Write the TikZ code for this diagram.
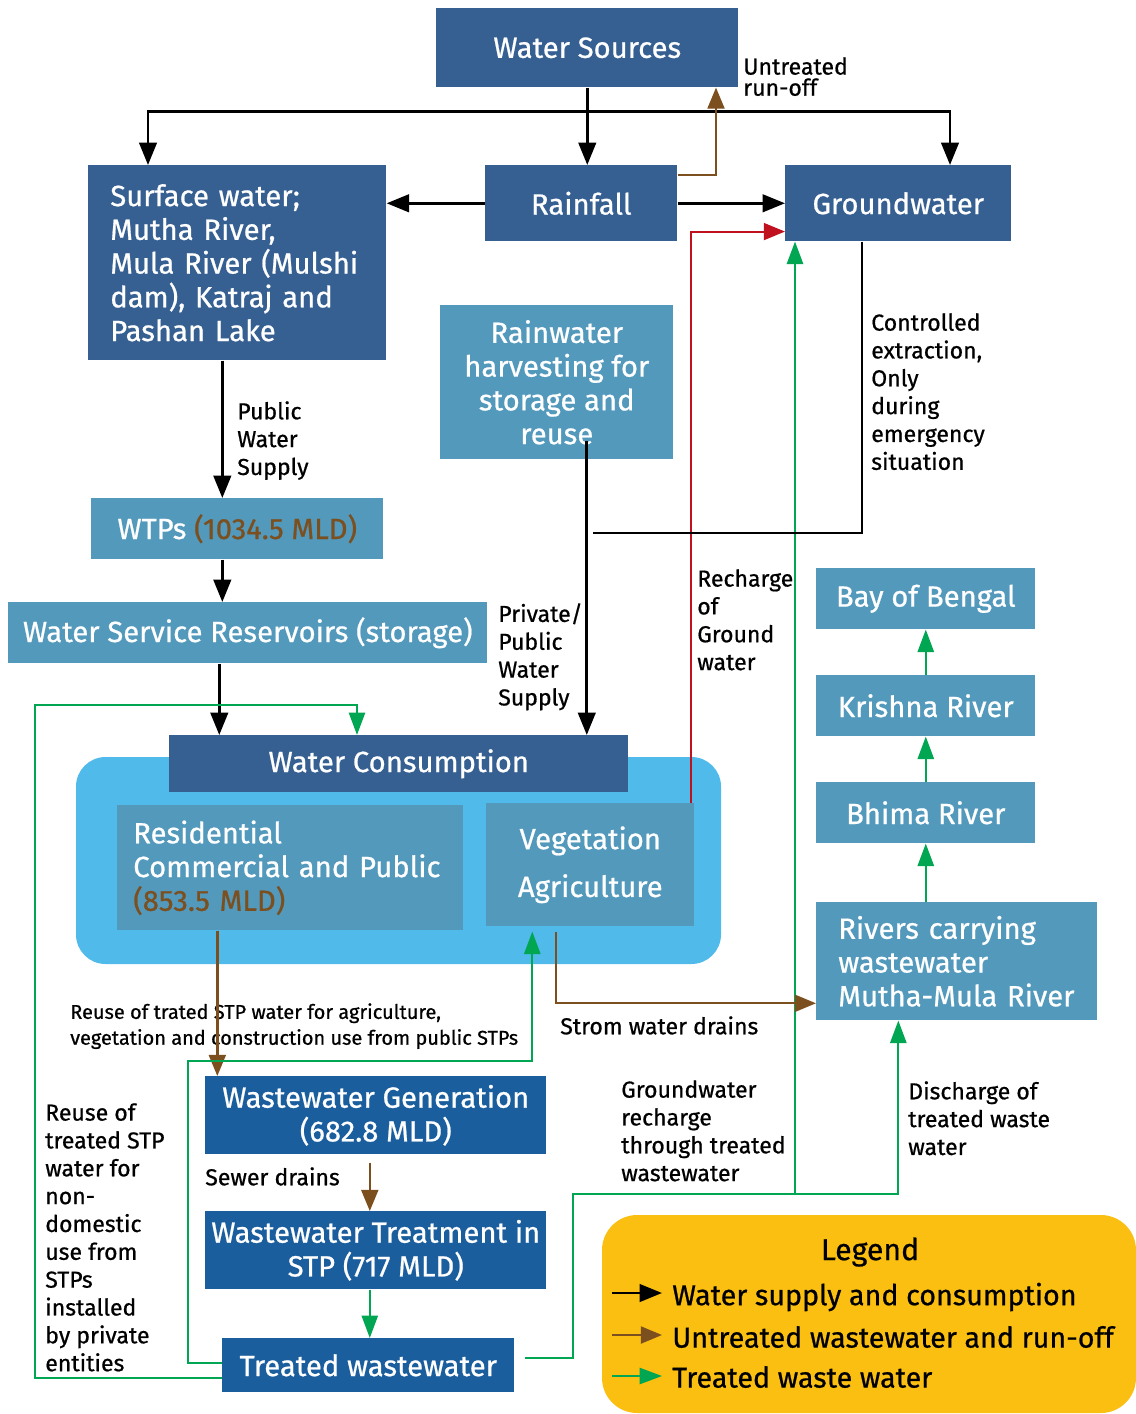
\documentclass[tikz,border=0pt]{standalone}
\usepackage{fontspec}
\setmainfont{Fira Sans}[FakeBold=0.7]
\usetikzlibrary{arrows.meta,calc}
\definecolor{darkbox}{RGB}{54,96,146}
\definecolor{midbox}{RGB}{82,153,188}
\definecolor{deepbox}{RGB}{27,94,157}
\definecolor{consbg}{RGB}{80,186,234}
\definecolor{runoff}{RGB}{124,79,31}
\definecolor{treated}{RGB}{0,166,81}
\definecolor{rechg}{RGB}{192,18,30}
\definecolor{legendbg}{RGB}{250,191,17}
\newlength\px
\setlength\px{0.025cm}
\tikzset{
  box/.style={fill=#1,text=white,inner sep=0pt,font=\fontsize{20.8}{24}\selectfont,anchor=north west},
  bsize/.style 2 args={minimum width=#1*\px,minimum height=#2*\px},
  lbl/.style={anchor=north west,inner sep=0pt,align=left,font=\fontsize{16.4}{19.8}\selectfont},
  supply/.style={line width=2pt,-{Triangle[width=12.5pt,length=16pt]}},
  raw/.style={runoff,line width=1.7pt,-{Triangle[width=12pt,length=15pt]}},
  trt/.style={treated,line width=1.6pt,-{Triangle[width=11.5pt,length=16pt]}},
}
\begin{document}
\begin{tikzpicture}[x=0.025cm,y=-0.025cm]
\useasboundingbox (0,0) rectangle (1136,1414);
\fill[consbg,rounded corners=21pt] (76,757) rectangle (721,964);
\fill[legendbg,rounded corners=25pt] (602,1215) rectangle (1136,1413);

\node[box=darkbox,bsize={302}{79}] (src) at (436,8) {Water Sources};
\node[box=darkbox,text width=6.35cm,inner xsep=0.55cm,minimum height=195*\px,align=left] (surf) at (88,165) {Surface water;\\Mutha River,\\Mula River (Mulshi\\dam), Katraj and\\Pashan Lake};
\node[box=darkbox,bsize={192}{76}] (rain) at (485,165) {Rainfall};
\node[box=darkbox,bsize={226}{76}] (gw) at (785,165) {Groundwater};
\node[box=midbox,bsize={233}{154},align=center] (rwh) at (440,305) {Rainwater\\harvesting for\\storage and\\reuse};
\node[box=midbox,bsize={292}{61}] (wtp) at (91,498) {WTPs {\color{runoff}(1034.5 MLD)}};
\node[box=midbox,bsize={479}{61}] (wsr) at (8,602) {Water Service Reservoirs (storage)};
\node[box=darkbox,bsize={459}{57}] (cons) at (169,735) {Water Consumption};
\node[box=midbox,text width=7.85cm,inner xsep=0.4cm,minimum height=125*\px,align=left] (resi) at (117,805) {Residential\\Commercial and Public\\{\color{runoff}(853.5 MLD)}};
\node[box=midbox,bsize={208}{123},align=center] (veg) at (486,803) {Vegetation\\[10pt]Agriculture};
\node[box=midbox,bsize={219}{61}] (bay) at (816,568) {Bay of Bengal};
\node[box=midbox,bsize={219}{61}] (kri) at (816,675) {Krishna River};
\node[box=midbox,bsize={219}{61}] (bhi) at (816,782) {Bhima River};
\node[box=midbox,text width=5.925cm,inner xsep=0.55cm,minimum height=118*\px,align=left] (riv) at (816,902) {Rivers carrying\\wastewater\\Mutha-Mula River};
\node[box=deepbox,bsize={341}{78},align=center] (wwg) at (205,1076) {Wastewater Generation\\(682.8 MLD)};
\node[box=deepbox,bsize={341}{78},align=center] (wwt) at (205,1211) {Wastewater Treatment in\\STP (717 MLD)};
\node[box=deepbox,bsize={292}{54}] (tww) at (222,1338) {Treated wastewater};

\node[lbl,font=\fontsize{16.4}{15}\selectfont] (lrun) at (743,57) {Untreated\\run-off};
\node[lbl] (lpws) at (237,401) {Public\\Water\\Supply};
\node[lbl] (lext) at (871,313) {Controlled\\extraction,\\Only\\during\\emergency\\situation};
\node[lbl] (lpriv) at (498,603) {Private/\\Public\\Water\\Supply};
\node[lbl] (lrech) at (697,569) {Recharge\\of\\Ground\\water};
\node[lbl,font=\fontsize{14.2}{18.4}\selectfont] (lagri) at (70,1003) {Reuse of trated STP water for agriculture,\\vegetation and construction use from public STPs};
\node[lbl] (lstorm) at (560,1016) {Strom water drains};
\node[lbl] (lnond) at (45,1103) {Reuse of\\treated STP\\water for\\non-\\domestic\\use from\\STPs\\installed\\by private\\entities};
\node[lbl] (lsew) at (205,1167) {Sewer drains};
\node[lbl] (lgwr) at (621,1080) {Groundwater\\recharge\\through treated\\wastewater};
\node[lbl] (ldis) at (908,1081) {Discharge of\\treated waste\\water};

\path (src.south) ++(0,24) coordinate (split);
\coordinate (swin) at (148,165);
\coordinate (gwin) at (950,165);
\coordinate (ext) at (593,533);
\coordinate (jn) at (795,1194);
\coordinate (lbend) at (35,705);
\coordinate (vbend) at (188,1061);
\coordinate (rbend) at (573,1194);
\draw[supply] (src.south) -- (src.south |- rain.north);
\draw[supply] (split) -| (swin);
\draw[supply] (split) -| (gwin);
\draw[supply] (rain.west) -- (rain.west -| surf.east);
\draw[supply] (rain.east) -- (rain.east -| gw.west);
\draw[raw] ($(rain.north east)+(0,10)$) -| ($(src.south west)+(280,0)$);
\draw[rechg,line width=1.4pt,-{Triangle[width=12pt,length=15pt]}] ($(veg.north east)+(-4,0)$) |- ($(gw.south west)+(0,-10)$);
\draw[trt] (jn) -- (jn |- gw.south);
\draw[line width=2pt] ($(gw.south west)+(77,0)$) |- (ext);
\coordinate (rwhout) at ($(rwh.south)+(30,-19)$);
\draw[supply] (rwhout) -- (rwhout |- cons.north);
\draw[supply] ($(surf.south)+(-15,0)$) coordinate (pws) -- (pws |- wtp.north);
\draw[supply] (pws |- wtp.south) -- (pws |- wsr.north);
\draw[supply] ($(wsr.south)+(-28.5,0)$) coordinate (cin) -- (cin |- cons.north);
\draw[raw] ($(resi.south)+(-73,0)$) coordinate (wout) -- (wout |- wwg.north);
\draw[raw] ($(veg.south)+(-34,5)$) |- ($(riv.west)+(0,42)$);
\draw[raw] ($(wwg.south)+(-6,8)$) coordinate (sd) -- (sd |- wwt.north);
\draw[trt] ($(wwt.south)+(-6,0)$) coordinate (tin) -- (tin |- tww.north);
\draw[trt] ($(tww.west)+(0,13)$) -| (lbend) -| ($(cons.north west)+(188,0)$);
\draw[trt] ($(tww.west)+(0,-2)$) -| (vbend) -| ($(veg.south)+(-58,5)$);
\draw[trt] ($(tww.east)+(10,-7)$) -| (rbend) -| ($(riv.south)+(-58.5,0)$);
\draw[trt] (bhi.south |- riv.north) -- (bhi.south);
\draw[trt] (kri.south |- bhi.north) -- (kri.south);
\draw[trt] (bay.south |- kri.north) -- (bay.south);

\node[font=\fontsize{21.5}{24}\selectfont] (lgd) at (870,1252) {Legend};
\node[anchor=west,inner sep=0pt,font=\fontsize{20.4}{24}\selectfont] (lg1) at (672,1297) {Water supply and consumption};
\node[anchor=west,inner sep=0pt,font=\fontsize{20.4}{24}\selectfont] (lg2) at (672,1337) {Untreated wastewater and run-off};
\node[anchor=west,inner sep=0pt,font=\fontsize{20.4}{24}\selectfont] (lg3) at (672,1377) {Treated waste water};
\draw[supply] ($(lg1.west)+(-60,-4)$) -- ($(lg1.west)+(-10,-4)$);
\draw[raw] ($(lg2.west)+(-60,-2)$) -- ($(lg2.west)+(-10,-2)$);
\draw[trt] ($(lg3.west)+(-60,-1)$) -- ($(lg3.west)+(-10,-1)$);
\end{tikzpicture}
\end{document}
